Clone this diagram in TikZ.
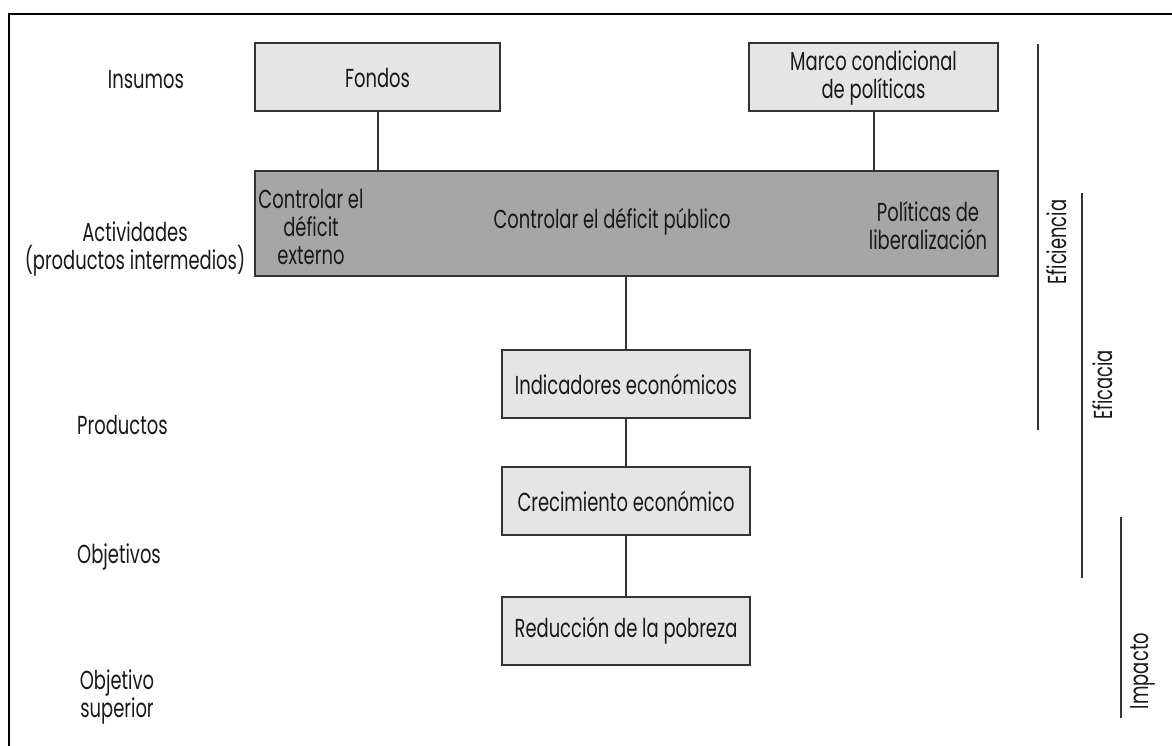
\documentclass[tikz,border=0pt]{standalone}
\usepackage{fontspec}
\setmainfont{Poppins}[FakeStretch=0.69]
\begin{document}
\begin{tikzpicture}[x=1pt,y=-1pt,
  every node/.style={font=\fontsize{26}{28}\selectfont, text=black!90},
  lightbox/.style={draw=black!80, line width=2pt, fill=black!10, inner sep=0pt, align=center},
  darkbox/.style={draw=black!80, line width=2pt, fill=black!35, inner sep=0pt},
  conn/.style={draw=black!80, line width=2pt},
  bar/.style={draw=black!80, line width=2pt},
  lbl/.style={align=center, inner sep=0pt},
  vlbl/.style={rotate=90, inner sep=0pt}]
\useasboundingbox (0,0) rectangle (1172,746);
\fill[white] (0,0) rectangle (1172,746);
% frame
\coordinate (fa) at (1172,14);
\coordinate (fb) at (9,14);
\coordinate (fc) at (9,746);
\draw[line width=2.6pt] (fa) -- (fb) -- (fc);
% boxes
\node[lightbox, minimum width=245, minimum height=68] (fondos) at (377.5,77.5) {Fondos};
\node[lightbox, minimum width=249, minimum height=68] (marco) at (873.5,77.5) {Marco condicional\\de políticas};
\node[darkbox, minimum width=743, minimum height=105] (dark) at (626.5,223.5) {};
\node[lbl] (dleft) at (311,227) {Controlar el\\déficit\\externo};
\node[lbl] (dmid) at (612,222) {Controlar el déficit público};
\node[lbl] (dright) at (928,225) {Políticas de\\liberalización};
\node[lightbox, minimum width=248, minimum height=68] (ind) at (626,384) {Indicadores económicos};
\node[lightbox, minimum width=248, minimum height=68] (crec) at (626,501) {Crecimiento económico};
\node[lightbox, minimum width=248, minimum height=68] (red) at (626,631) {Reducción de la pobreza};
% connectors
\draw[conn] (fondos.south) -- (fondos.south |- dark.north);
\draw[conn] (marco.south) -- (marco.south |- dark.north);
\draw[conn] (ind.north) -- (ind.north |- dark.south);
\draw[conn] (ind.south) -- (crec.north);
\draw[conn] (crec.south) -- (red.north);
% left labels
\node[lbl] (insumos) at (146,80) {Insumos};
\node[lbl] (activ) at (135,249) {Actividades\\(productos intermedios)};
\node[lbl, anchor=west] (prod) at (77,425) {Productos};
\node[lbl, anchor=west] (obj) at (77,557) {Objetivos};
\node[lbl] (objsup) at (117,697) {Objetivo\\superior};
% right bars
\coordinate (e1) at (1038,44);
\coordinate (e2) at (1038,430);
\draw[bar] (e1) -- (e2);
\node[vlbl] (efic) at (1057,242) {Eficiencia};
\coordinate (c1) at (1082,193);
\coordinate (c2) at (1082,578);
\draw[bar] (c1) -- (c2);
\node[vlbl] (eficacia) at (1103,385) {Eficacia};
\coordinate (i1) at (1121,517);
\coordinate (i2) at (1121,718);
\draw[bar] (i1) -- (i2);
\node[vlbl] (impacto) at (1143,671) {Impacto};
\end{tikzpicture}
\end{document}
